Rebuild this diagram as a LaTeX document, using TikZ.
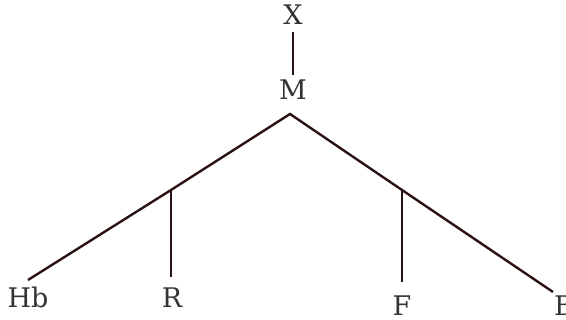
\documentclass[tikz,border=0pt]{standalone}
\usepackage{fontspec}
\setmainfont{DejaVu Serif}
\definecolor{ln}{HTML}{2A1212}
\definecolor{tx}{HTML}{333333}
\begin{document}
\begin{tikzpicture}[x=1pt,y=-1pt,
  lbl/.style={text=tx,font=\fontsize{27}{30}\selectfont,inner sep=0pt,anchor=base},
  edge/.style={draw=ln,line width=2.4pt}]
\useasboundingbox (0,0) rectangle (566,320);
\node[lbl] (X) at (293,25) {X};
\node[lbl] (M) at (293,100) {M};
\node[lbl] (Hb) at (28,308) {Hb};
\node[lbl] (R) at (172,308) {R};
\node[lbl] (F) at (402,316) {F};
\node[lbl] (B) at (564,316) {B};
\coordinate (xb) at (293,32);
\coordinate (mt) at (293,75);
\coordinate (apex) at (290,114);
\coordinate (lb) at (171,190);
\coordinate (rb) at (402,190);
\coordinate (le) at (28,280);
\coordinate (re) at (553,292);
\coordinate (rend) at (171,277);
\coordinate (fend) at (402,282);
\draw[edge] (xb) -- (mt);
\draw[edge] (le) -- (lb) -- (apex) -- (rb) -- (re);
\draw[edge] (lb) -- (rend);
\draw[edge] (rb) -- (fend);
\end{tikzpicture}
\end{document}
